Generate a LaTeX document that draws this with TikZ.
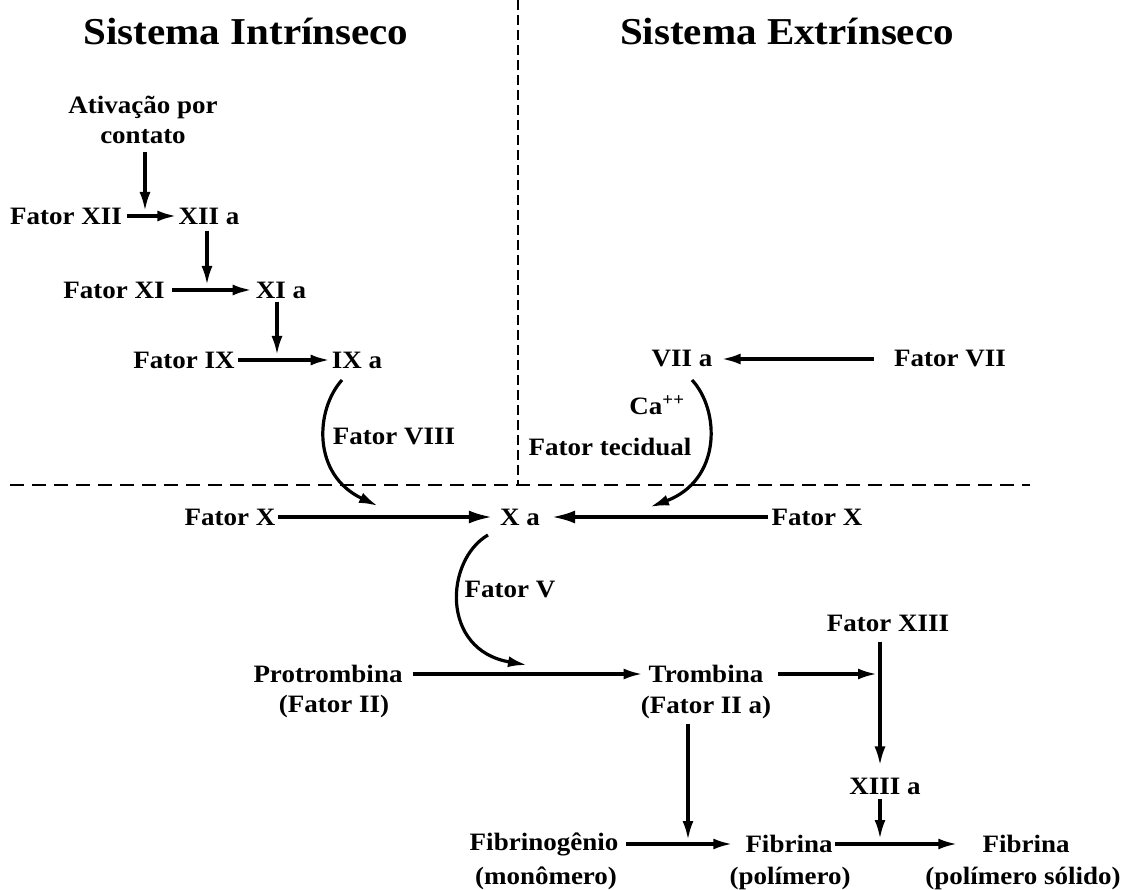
\documentclass[tikz,border=0pt]{standalone}
\usepackage{fontspec}
\setmainfont{Liberation Serif}[FakeStretch=1.08]
\usetikzlibrary{arrows.meta,calc}
\begin{document}
\begin{tikzpicture}[x=1pt,y=-1pt,
  lbl/.style={font=\bfseries\fontsize{25}{30}\selectfont, inner sep=0pt, align=center},
  ttl/.style={font=\bfseries\fontsize{38}{44}\selectfont, inner sep=0pt},
  arr/.style={line width=3.2pt, -{Latex[length=19pt,width=11pt]}},
  bigarr/.style={line width=3.2pt, -{Latex[length=23pt,width=13pt]}},
  vsep/.style={line width=1.6pt, dash pattern=on 10pt off 5pt},
  hsep/.style={line width=1.6pt, dash pattern=on 14pt off 8pt}]
\useasboundingbox (0,0) rectangle (1133,890);

% separators
\coordinate (vtop) at (518,0);
\coordinate (vbot) at (518,485);
\coordinate (hl) at (10,485);
\coordinate (hr) at (1030,485);
\draw[vsep] (vtop) -- (vbot);
\draw[hsep] (hl) -- (hr);

% titles
\node[ttl] (t1) at (246,31) {Sistema Intrínseco};
\node[ttl] (t2) at (787,31) {Sistema Extrínseco};

% intrinsic
\node[lbl] (act) at (143,120) {Ativação por\\contato};
\node[lbl] (f12) at (66,216) {Fator XII};
\node[lbl] (a12) at (209,216) {XII a};
\node[lbl] (f11) at (114,290) {Fator XI};
\node[lbl] (a11) at (281,290) {XI a};
\node[lbl] (f9) at (184,360) {Fator IX};
\node[lbl] (a9) at (357,360) {IX a};
\node[lbl] (f8) at (394,437) {Fator VIII};

% extrinsic
\node[lbl] (a7) at (682,359) {VII a};
\node[lbl] (f7) at (950,359) {Fator VII};
\node[lbl] (ca) at (657,405) {Ca\textsuperscript{++}};
\node[lbl] (tec) at (610,447) {Fator tecidual};

% common
\node[lbl] (fxl) at (230,517) {Fator X};
\node[lbl] (xa) at (520,517) {X a};
\node[lbl] (fxr) at (817,517) {Fator X};
\node[lbl] (f5) at (510,590) {Fator V};
\node[lbl] (pro) at (328,674) {Protrombina};
\node[lbl] (pro2) at (334,706) {(Fator II)};
\node[lbl] (tro) at (706,674) {Trombina};
\node[lbl] (tro2) at (706,707) {(Fator II a)};
\node[lbl] (f13) at (888,623) {Fator XIII};
\node[lbl] (a13) at (885,786) {XIII a};
\node[lbl] (fbg) at (544,844) {Fibrinogênio};
\node[lbl] (fbg2) at (546,878) {(monômero)};
\node[lbl] (fbr) at (789,844) {Fibrina};
\node[lbl] (fbr2) at (790,878) {(polímero)};
\node[lbl] (fbs) at (1026,844) {Fibrina};
\node[lbl] (fbs2) at (1023,878) {(polímero sólido)};

% helper x positions and curve ends
\coordinate (xa1) at (145,0);
\coordinate (xb1) at (207,0);
\coordinate (xc1) at (277,0);
\coordinate (xt) at (688,0);
\coordinate (x13) at (880,0);
\coordinate (k9) at (342,380);
\coordinate (e8) at (378,506);
\coordinate (k7) at (692,380);
\coordinate (e7) at (650,507);
\coordinate (kx) at (488,535);
\coordinate (e5) at (527,665);

% arrows intrinsic
\draw[arr, shorten <=8pt, shorten >=5pt] (xa1 |- act.south) -- (xa1 |- f12);
\draw[arr, shorten <=5pt, shorten >=2pt] (f12) -- (a12);
\draw[arr, shorten <=6pt, shorten >=5pt] (xb1 |- a12.south) -- (xb1 |- f11);
\draw[arr, shorten <=7pt, shorten >=4pt] (f11) -- (a11);
\draw[arr, shorten <=3pt, shorten >=5pt] (xc1 |- a11.south) -- (xc1 |- f9);
\draw[arr, shorten <=3pt, shorten >=2pt] (f9) -- (a9);
\draw[arr] (k9) .. controls (315,410) and (312,475) .. (e8);

% arrows extrinsic
\draw[arr, shorten <=20pt, shorten >=9pt] (f7) -- (a7);
\draw[arr] (k7) .. controls (720,410) and (722,480) .. (e7);

% common
\draw[bigarr, shorten <=2pt, shorten >=8pt] (fxl) -- (xa);
\draw[bigarr, shorten <=3pt, shorten >=12pt] (fxr) -- (xa);
\draw[arr] (kx) .. controls (445,560) and (440,650) .. (e5);
\draw[arr, shorten <=10pt, shorten >=6pt] (pro) -- (tro);
\draw[arr, shorten <=15pt, shorten >=3pt] (tro) -- (x13 |- tro);
\draw[arr, shorten <=10pt, shorten >=12pt] (x13 |- f13.south) -- (x13 |- a13.north);
\draw[arr, shorten <=4pt, shorten >=5pt] (x13 |- a13.south) -- (x13 |- fbr);
\draw[arr, shorten <=5pt, shorten >=4pt] (xt |- tro2.south) -- (xt |- fbr);
\draw[arr, shorten <=8pt, shorten >=13pt] (fbg) -- (fbr);
\draw[arr, shorten <=2pt, shorten >=25pt] (fbr) -- (fbs);
\end{tikzpicture}
\end{document}
